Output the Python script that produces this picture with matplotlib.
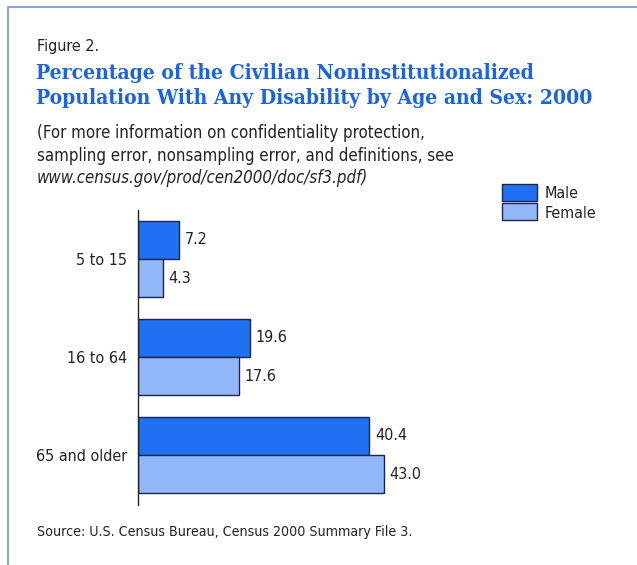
import numpy as np
import matplotlib.pyplot as plt
from matplotlib.patches import Rectangle

# data
age_groups = ['5 to 15', '16 to 64', '65 and older']
male = [7.2, 19.6, 40.4]
female = [4.3, 17.6, 43.0]

body = dict(family='DejaVu Sans', fontstretch='condensed', color='#222222')
W, H = 637, 565
fig = plt.figure(figsize=(W / 100, H / 100), dpi=100)

def fx(px):
    return px / W

def fy(py):
    return 1 - py / H

# outer frame (cut off at right and bottom)
fig.patches.append(Rectangle((fx(8), fy(600)), fx(700), fy(7) - fy(600),
                             transform=fig.transFigure, fill=False,
                             edgecolor='#6f95d6', linewidth=1.2))

male_col = '#2070f4'
female_col = '#92b7f8'
edge_col = '#1b2454'

ax = fig.add_axes([fx(138), fy(505), fx(50 * 5.72), fy(210) - fy(505)])
y = np.arange(len(age_groups))
h = 0.39
ax.barh(y - h / 2, male, height=h, color=male_col, edgecolor=edge_col, linewidth=1.0)
ax.barh(y + h / 2, female, height=h, color=female_col, edgecolor=edge_col, linewidth=1.0)
ax.set_xlim(0, 50)
ax.set_ylim(2.51, -0.50)
for i in range(len(age_groups)):
    ax.text(male[i] + 1.0, y[i] - h / 2, f'{male[i]:.1f}', va='center', ha='left',
            fontsize=11.5, **body)
    ax.text(female[i] + 1.0, y[i] + h / 2, f'{female[i]:.1f}', va='center', ha='left',
            fontsize=11.5, **body)

ax.set_yticks(y)
ax.set_yticklabels(age_groups, fontsize=11.5, **body)
ax.tick_params(axis='y', length=0, pad=8)
ax.set_xticks([])
for s in ['top', 'right', 'bottom']:
    ax.spines[s].set_visible(False)
ax.spines['left'].set_color('#222222')
ax.spines['left'].set_linewidth(1.0)
ax.set_facecolor('none')

# legend
fig.patches.append(Rectangle((fx(502), fy(201)), fx(35), fy(184) - fy(201),
                             transform=fig.transFigure, facecolor=male_col,
                             edgecolor=edge_col, linewidth=1.0))
fig.patches.append(Rectangle((fx(502), fy(220)), fx(35), fy(203) - fy(220),
                             transform=fig.transFigure, facecolor=female_col,
                             edgecolor=edge_col, linewidth=1.0))
fig.text(fx(545), fy(193), 'Male', fontsize=11.5, va='center', **body)
fig.text(fx(545), fy(214), 'Female', fontsize=11.5, va='center', **body)

# titles
fig.text(fx(37), fy(46), 'Figure 2.', fontsize=11.5, va='center', **body)
title = dict(fontsize=15.15, fontweight='bold', family='DejaVu Serif', fontstretch='condensed',
             va='center', color='#1a62e6')
fig.text(fx(36), fy(73), 'Percentage of the Civilian Noninstitutionalized', **title)
fig.text(fx(36), fy(98), 'Population With Any Disability by Age and Sex: 2000', **title)

fig.text(fx(37), fy(133), '(For more information on confidentiality protection,',
         fontsize=12.1, va='center', **body)
fig.text(fx(37), fy(156), 'sampling error, nonsampling error, and definitions, see',
         fontsize=12.1, va='center', **body)
fig.text(fx(37), fy(178), 'www.census.gov/prod/cen2000/doc/sf3.pdf)',
         fontsize=12.1, style='italic', va='center', **body)

fig.text(fx(37), fy(532), 'Source: U.S. Census Bureau, Census 2000 Summary File 3.',
         fontsize=10.15, va='center', **body)

fig.savefig('out.png', dpi=100)
